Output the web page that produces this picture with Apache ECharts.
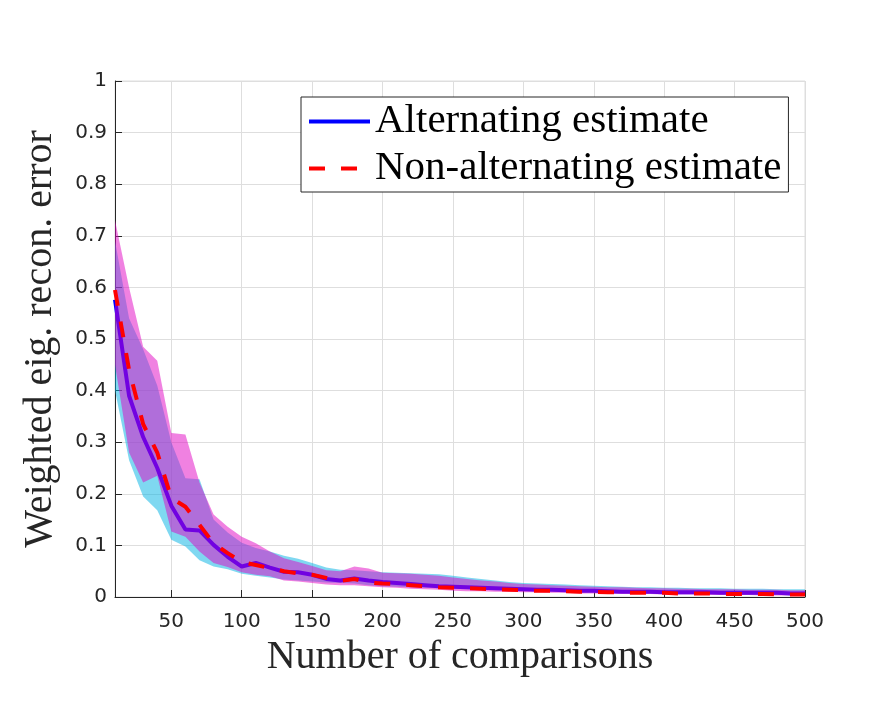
<!DOCTYPE html>
<html>
<head>
<meta charset="utf-8">
<title>Weighted eig. recon. error</title>
<script src="https://cdn.jsdelivr.net/npm/echarts@6/dist/echarts.min.js"></script>
<style>
html, body { margin: 0; padding: 0; background: #fff; }
#main { width: 891px; height: 703px; }
</style>
</head>
<body>
<div id="main"></div>
<script>
// number of comparisons (x)
var comparisons = [10, 20, 30, 40, 50, 60, 70, 80, 90, 100,
    110, 120, 130, 140, 150, 160, 170, 180, 190, 200,
    210, 220, 230, 240, 250, 260, 270, 280, 290, 300,
    310, 320, 330, 340, 350, 360, 370, 380, 390, 400,
    410, 420, 430, 440, 450, 460, 470, 480, 490, 500];
var xTicks = [50, 100, 150, 200, 250, 300, 350, 400, 450, 500];

// alternating estimate: mean and band
var altMean = [0.576, 0.39, 0.31, 0.25, 0.177, 0.131, 0.129, 0.101, 0.078, 0.059,
    0.066, 0.057, 0.049, 0.048, 0.043, 0.035, 0.032, 0.036, 0.032, 0.029,
    0.027, 0.025, 0.023, 0.021, 0.020, 0.019, 0.018, 0.017, 0.016, 0.015,
    0.014, 0.014, 0.013, 0.012, 0.012, 0.011, 0.010, 0.010, 0.010, 0.009,
    0.009, 0.009, 0.009, 0.008, 0.008, 0.008, 0.008, 0.008, 0.007, 0.007];
var altLow = [0.40, 0.265, 0.195, 0.168, 0.111, 0.098, 0.071, 0.059, 0.054, 0.045,
    0.041, 0.038, 0.034, 0.032, 0.030, 0.028, 0.027, 0.026, 0.023, 0.021,
    0.020, 0.019, 0.018, 0.017, 0.016, 0.015, 0.014, 0.013, 0.013, 0.012,
    0.011, 0.011, 0.010, 0.009, 0.009, 0.008, 0.008, 0.007, 0.007, 0.006,
    0.006, 0.006, 0.005, 0.005, 0.005, 0.004, 0.004, 0.004, 0.004, 0.003];
var altHigh = [0.69, 0.54, 0.48, 0.41, 0.30, 0.23, 0.228, 0.150, 0.125, 0.105,
    0.095, 0.088, 0.080, 0.074, 0.066, 0.057, 0.053, 0.052, 0.050, 0.048,
    0.047, 0.046, 0.045, 0.044, 0.041, 0.038, 0.035, 0.032, 0.029, 0.027,
    0.026, 0.025, 0.024, 0.023, 0.022, 0.021, 0.020, 0.019, 0.019, 0.018,
    0.018, 0.017, 0.017, 0.017, 0.016, 0.016, 0.016, 0.015, 0.015, 0.015];

// non-alternating estimate: mean and band
var nonMean = [0.595, 0.44, 0.335, 0.28, 0.192, 0.175, 0.140, 0.104, 0.085, 0.068,
    0.062, 0.056, 0.050, 0.046, 0.043, 0.037, 0.031, 0.035, 0.028, 0.026,
    0.025, 0.023, 0.021, 0.019, 0.018, 0.017, 0.016, 0.015, 0.014, 0.013,
    0.012, 0.012, 0.011, 0.010, 0.010, 0.009, 0.009, 0.008, 0.008, 0.008,
    0.007, 0.007, 0.007, 0.006, 0.006, 0.006, 0.006, 0.005, 0.005, 0.005];
var nonLow = [0.45, 0.28, 0.222, 0.235, 0.127, 0.117, 0.088, 0.066, 0.058, 0.048,
    0.043, 0.040, 0.032, 0.030, 0.027, 0.024, 0.023, 0.023, 0.021, 0.019,
    0.018, 0.016, 0.015, 0.014, 0.012, 0.011, 0.011, 0.010, 0.010, 0.009,
    0.009, 0.008, 0.008, 0.007, 0.007, 0.007, 0.006, 0.006, 0.006, 0.005,
    0.005, 0.005, 0.004, 0.004, 0.004, 0.004, 0.003, 0.003, 0.003, 0.003];
var nonHigh = [0.73, 0.60, 0.485, 0.458, 0.318, 0.315, 0.222, 0.160, 0.136, 0.117,
    0.104, 0.088, 0.075, 0.068, 0.060, 0.052, 0.050, 0.059, 0.055, 0.047,
    0.046, 0.045, 0.043, 0.041, 0.038, 0.035, 0.032, 0.030, 0.027, 0.025,
    0.024, 0.023, 0.022, 0.021, 0.020, 0.019, 0.019, 0.018, 0.017, 0.017,
    0.016, 0.016, 0.015, 0.015, 0.015, 0.014, 0.014, 0.014, 0.013, 0.013];

function pairs(ys) {
    return ys.map(function (y, i) { return [comparisons[i], y]; });
}

// shaded band between lo and hi, one polygon through the axis scales
function band(lo, hi, fill, z) {
    return {
        type: 'custom',
        silent: true,
        z: z,
        data: [[comparisons[0], lo[0]]],
        renderItem: function (params, api) {
            var pts = [], i;
            for (i = 0; i < comparisons.length; i++) {
                pts.push(api.coord([comparisons[i], hi[i]]));
            }
            for (i = comparisons.length - 1; i >= 0; i--) {
                pts.push(api.coord([comparisons[i], lo[i]]));
            }
            return {
                type: 'polygon',
                shape: { points: pts },
                style: { fill: fill, stroke: null }
            };
        }
    };
}

var serif = 'Liberation Serif';
var sans = 'DejaVu Sans';
var ink = '#262626';

var myChart = echarts.init(document.getElementById('main'));
var option = {
    animation: false,
    backgroundColor: '#fff',
    grid: {
        left: 115, right: 86, top: 81, bottom: 106,
        show: true, borderColor: '#dedede', borderWidth: 1,
        outerBoundsMode: 'none'
    },
    legend: {
        data: ['Alternating estimate', 'Non-alternating estimate'],
        orient: 'vertical',
        left: 301, top: 97,
        padding: [4, 7, 3, 6],
        itemGap: 6,
        itemWidth: 61,
        itemHeight: 4,
        borderColor: ink,
        borderWidth: 1,
        backgroundColor: '#fff',
        lineStyle: { width: 4 },
        itemStyle: { opacity: 0 },
        textStyle: { fontFamily: serif, fontSize: 41, color: '#000', lineHeight: 40 }
    },
    xAxis: {
        type: 'value',
        min: 10, max: 500,
        name: 'Number of comparisons',
        nameLocation: 'middle',
        nameGap: 40,
        nameTextStyle: { fontFamily: serif, fontSize: 40, color: ink },
        axisLine: { lineStyle: { color: ink, width: 1 } },
        axisTick: { inside: true, length: 7, customValues: xTicks, lineStyle: { color: ink } },
        axisLabel: { customValues: xTicks, fontFamily: sans, fontSize: 20, color: ink, margin: 15 },
        splitLine: { show: true, lineStyle: { color: '#dedede', width: 1 } }
    },
    yAxis: {
        type: 'value',
        min: 0, max: 1, interval: 0.1,
        name: 'Weighted eig. recon. error',
        nameLocation: 'middle',
        nameGap: 55,
        nameTextStyle: { fontFamily: serif, fontSize: 40, color: ink },
        axisLine: { show: true, lineStyle: { color: ink, width: 1 } },
        axisTick: { show: true, inside: true, length: 7, lineStyle: { color: ink } },
        axisLabel: {
            fontFamily: sans, fontSize: 20, color: ink, margin: 8,
            formatter: function (v) { return String(+v.toFixed(1)); }
        },
        splitLine: { show: true, lineStyle: { color: '#dedede', width: 1 } }
    },
    series: [
        band(altLow, altHigh, 'rgba(0,178,228,0.5)', 1),
        {
            name: 'Alternating estimate', type: 'line', z: 2, data: pairs(altMean),
            symbol: 'none', color: '#0000ff',
            lineStyle: { color: '#0000ff', width: 4 }
        },
        band(nonLow, nonHigh, 'rgba(226,4,196,0.5)', 3),
        {
            name: 'Non-alternating estimate', type: 'line', z: 4, data: pairs(nonMean),
            symbol: 'none', color: '#ff0000',
            lineStyle: { color: '#ff0000', width: 4, type: [16, 16] }
        }
    ]
};
myChart.setOption(option);
</script>
</body>
</html>
